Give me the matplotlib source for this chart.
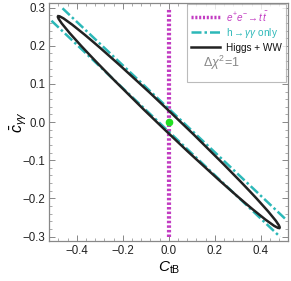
import matplotlib
matplotlib.use("Agg")
import matplotlib.pyplot as plt
import numpy as np
from matplotlib.patches import Ellipse
from matplotlib.lines import Line2D
from matplotlib.ticker import MultipleLocator, AutoMinorLocator

plt.rcParams['font.family'] = ['Liberation Sans', 'DejaVu Sans']
plt.rcParams['mathtext.fontset'] = 'custom'
plt.rcParams['mathtext.rm'] = 'Liberation Sans'
plt.rcParams['mathtext.it'] = 'Liberation Sans:italic'
plt.rcParams['mathtext.bf'] = 'Liberation Sans:bold'

# Data
ee_x = [0.0, 0.0]
ee_y = [-0.3, 0.3]
# h->gamma gamma band: y = slope*x + intercept, two edges
hgg_slope = -0.57
hgg_intercepts = [0.035, -0.025]
hgg_xranges = [[-0.462, 0.514], [-0.51, 0.484]]
# Higgs + WW ellipse
ell_center = (0.0, 0.0)
ell_tip = (0.482, -0.277)
ell_minor_half = 0.026
best_fit = (0.0, 0.0)

labels = [r'$e^{+}e^{-}\!\rightarrow t\,\bar{t}$', r'h$\rightarrow\gamma\gamma$ only', 'Higgs + WW']
chi_label = r'$\Delta\chi^2\!=\!1$'

magenta = '#c23cc2'
cyan = '#2cb8b8'

fig = plt.figure(figsize=(2.91, 2.81), dpi=100)
ax = fig.add_axes([0.169, 0.142, 0.822, 0.847])

ax.plot(ee_x, ee_y, color=magenta, lw=3.0, ls=(0, (0.6, 0.5)), zorder=2)
for b, xr in zip(hgg_intercepts, hgg_xranges):
    xs = np.array(xr)
    ax.plot(xs, hgg_slope * xs + b, color=cyan, lw=1.8, ls=(0, (4, 1.2, 1, 1.2)), zorder=3)

a = np.hypot(*ell_tip)
ang = np.degrees(np.arctan2(ell_tip[1], ell_tip[0]))
ax.add_patch(Ellipse(ell_center, 2 * a, 2 * ell_minor_half, angle=ang,
                     fill=False, ec='#222222', lw=1.8, zorder=4))
ax.plot(*best_fit, 'o', color='#22e022', ms=4.5, zorder=5)

ax.set_xlim(-0.52, 0.52)
ax.set_ylim(-0.312, 0.312)
ax.xaxis.set_minor_locator(AutoMinorLocator(5))
ax.yaxis.set_minor_locator(AutoMinorLocator(5))
xt = [-0.4, -0.2, 0.0, 0.2, 0.4]
ax.set_xticks(xt)
ax.set_xticklabels([f'{v:.1f}'.replace('-', '\u2212') for v in xt])
yt = [-0.3, -0.2, -0.1, 0.0, 0.1, 0.2, 0.3]
ax.set_yticks(yt)
ax.set_yticklabels([f'{v:.1f}'.replace('-', '\u2212') for v in yt])
ax.tick_params(which='both', direction='in', top=True, right=True, color='#888888',
               labelsize=8.3, labelcolor='#222222', pad=2.5)
ax.tick_params(which='major', length=4, width=0.7)
ax.tick_params(which='minor', length=2, width=0.5)
for s in ax.spines.values():
    s.set_color('#888888')
    s.set_linewidth(0.9)

ax.set_xlabel(r'$C_{\mathrm{tB}}$', fontsize=11, labelpad=2)
ax.set_ylabel(r'$\bar{c}_{\gamma\gamma}$', fontsize=11.5)
ax.yaxis.set_label_coords(-0.085, 0.5)

handles = [Line2D([], [], color=magenta, lw=2.5, ls=(0, (0.6, 0.5))),
           Line2D([], [], color=cyan, lw=1.8, ls=(0, (4, 1.2, 1, 1.2))),
           Line2D([], [], color='#222222', lw=1.8),
           Line2D([], [], color='none')]
leg = ax.legend(handles, labels + ['\n'], loc='upper right',
                fontsize=7.2, frameon=True, fancybox=False, edgecolor='#aaaaaa',
                handlelength=2.9, handletextpad=0.55, borderpad=0.45, labelspacing=0.3,
                bbox_to_anchor=(0.99, 0.996), borderaxespad=0.0)
leg.get_frame().set_linewidth(0.8)
texts = leg.get_texts()
texts[0].set_color(magenta)
texts[1].set_color(cyan)
texts[2].set_color('#111111')
ax.text(0.72, 0.748, chi_label, transform=ax.transAxes, ha='center', va='center',
        fontsize=9, color='#888888', zorder=6)

fig.savefig('out.png', dpi=100)
